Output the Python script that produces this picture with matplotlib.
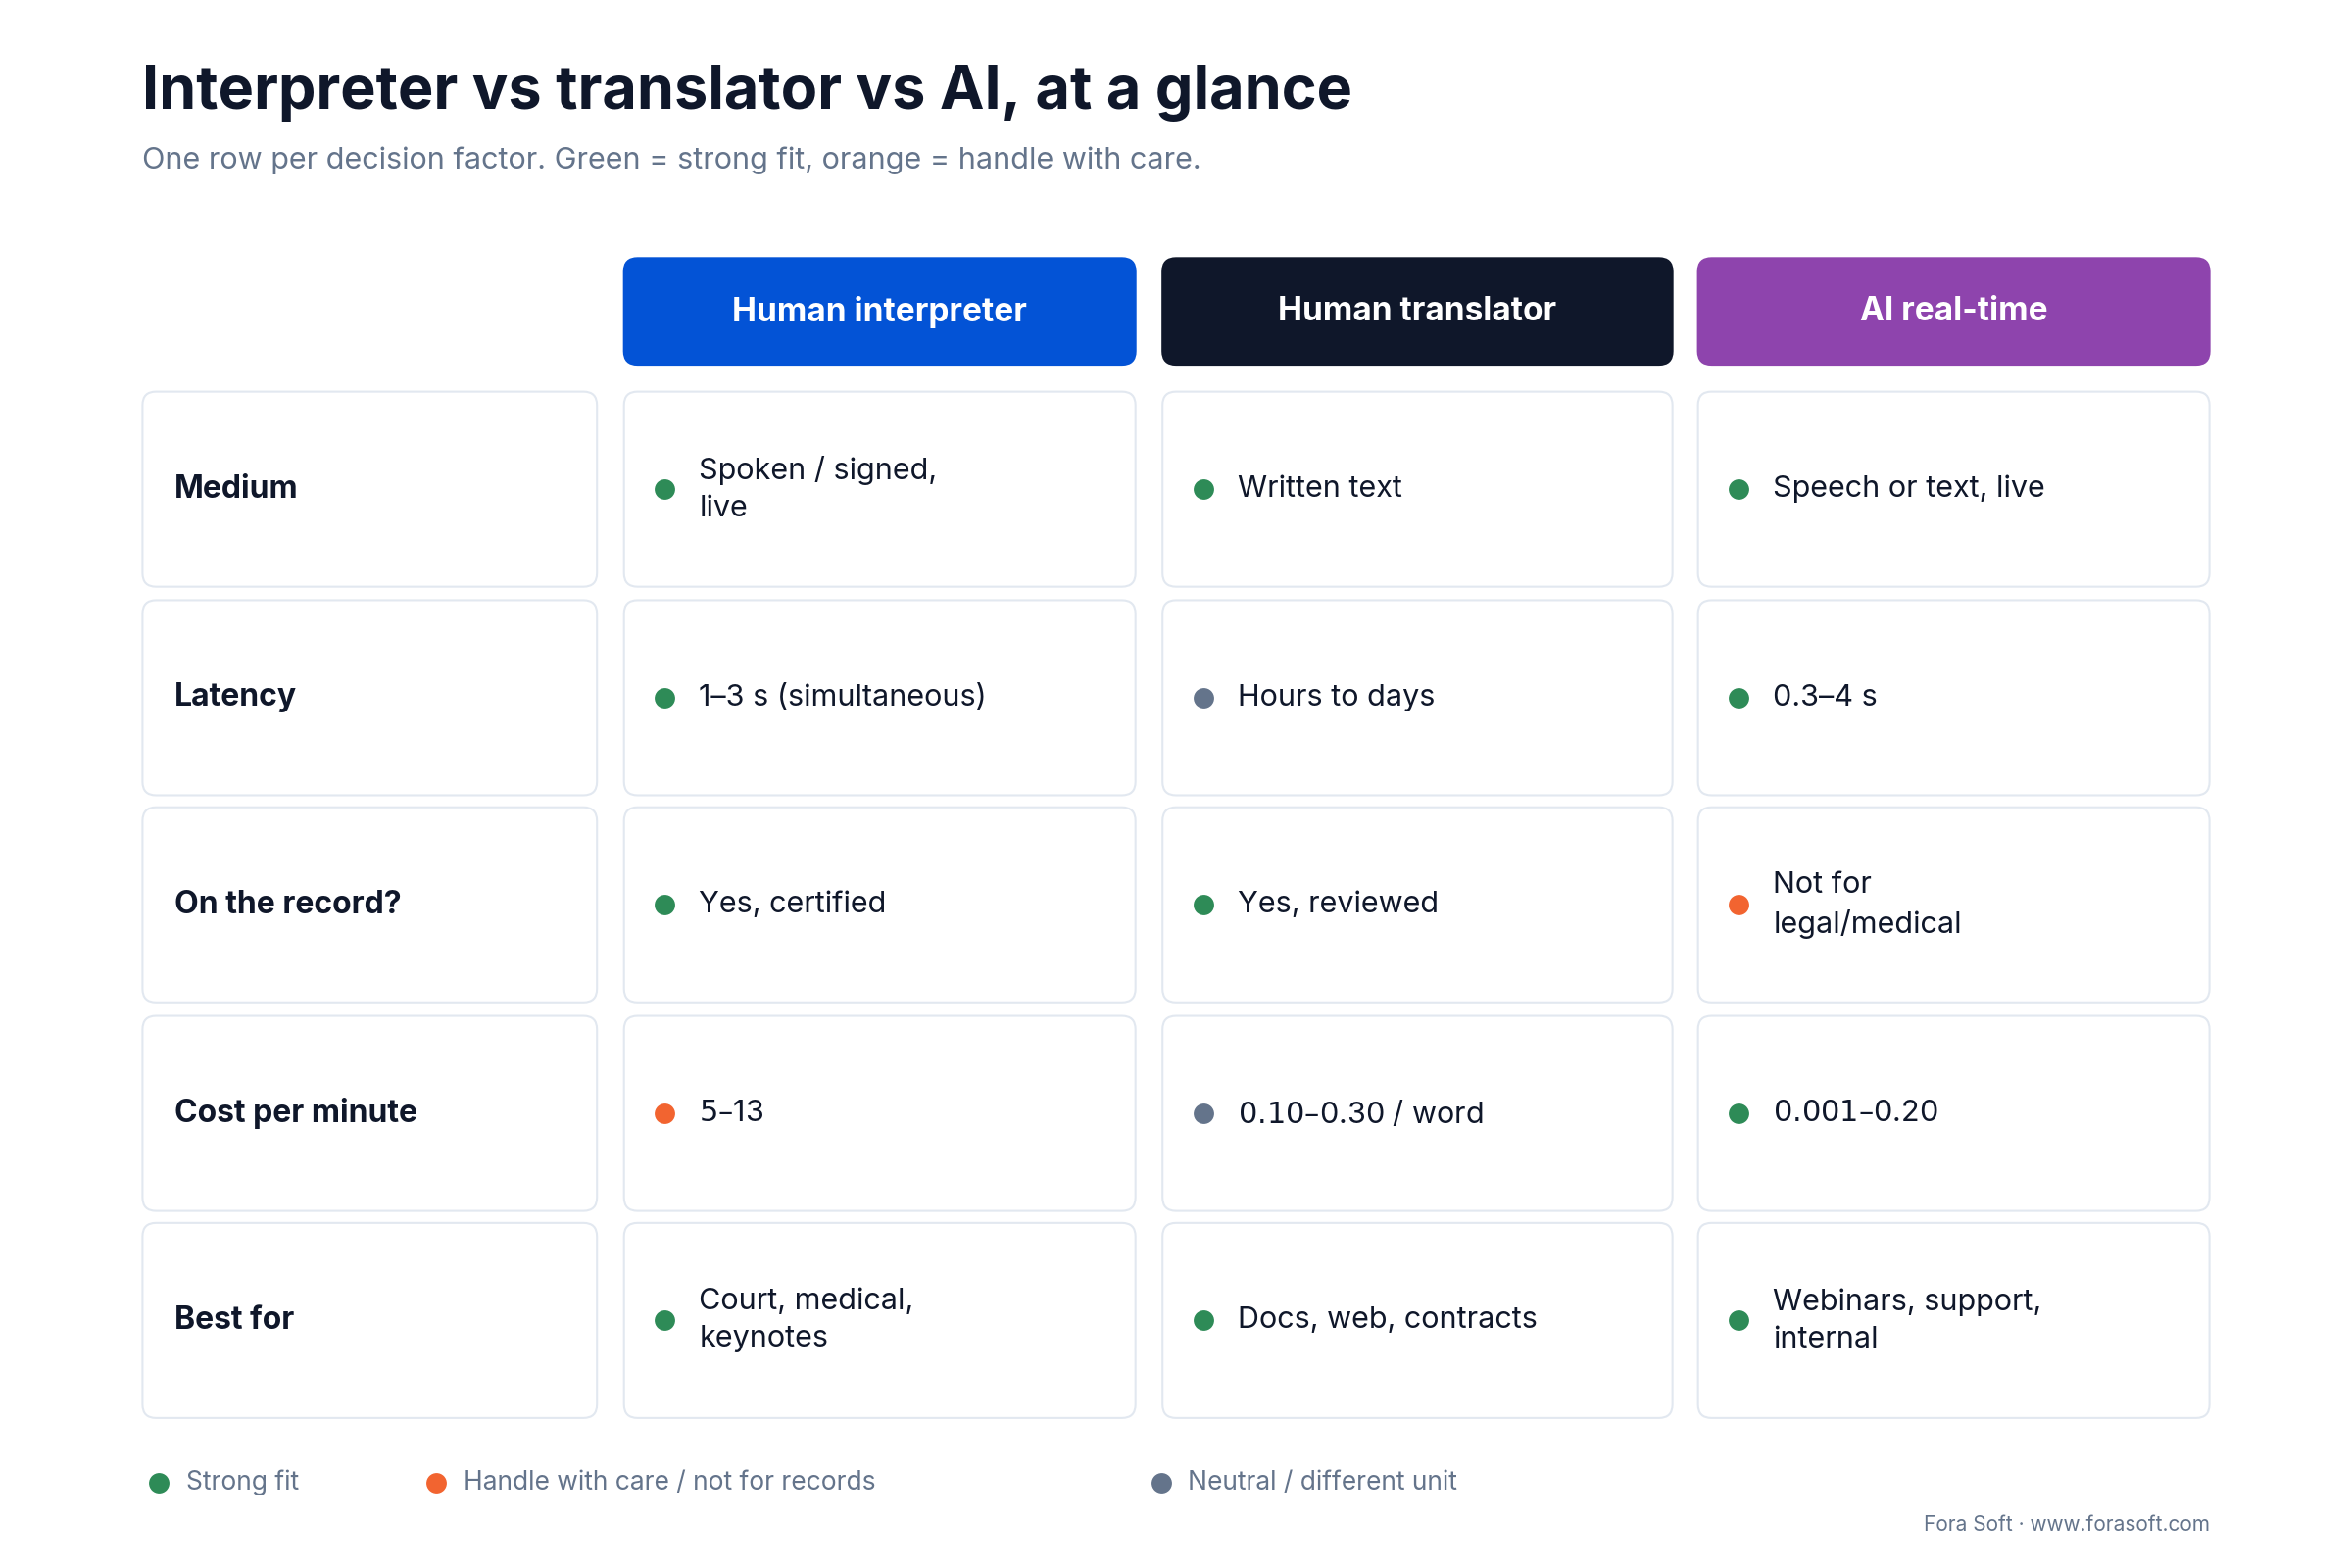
import matplotlib.pyplot as plt
from matplotlib.patches import FancyBboxPatch

plt.rcParams['font.family'] = ['Inter', 'DejaVu Sans']

columns = ["Human interpreter", "Human translator", "AI real-time"]
header_colors = ["#0353d6", "#0f172a", "#8e44ad"]
factors = ["Medium", "Latency", "On the record?", "Cost per minute", "Best for"]
cells = [
    ["Spoken / signed,\nlive", "Written text", "Speech or text, live"],
    ["1–3 s (simultaneous)", "Hours to days", "0.3–4 s"],
    ["Yes, certified", "Yes, reviewed", "Not for\nlegal/medical"],
    ["$5–$13", "$0.10–$0.30 / word", "$0.001–$0.20"],
    ["Court, medical,\nkeynotes", "Docs, web, contracts", "Webinars, support,\ninternal"],
]
# g = strong fit, o = handle with care, n = neutral
status = [
    ["g", "g", "g"],
    ["g", "n", "g"],
    ["g", "g", "o"],
    ["o", "n", "g"],
    ["g", "g", "g"],
]
status_colors = {"g": "#2e8b57", "o": "#f26430", "n": "#64748b"}
legend_labels = ["Strong fit", "Handle with care / not for records", "Neutral / different unit"]

W, H = 1568, 1045
fig = plt.figure(figsize=(24, 16), dpi=100)
ax = fig.add_axes([0, 0, 1, 1])
ax.set_xlim(0, W)
ax.set_ylim(H, 0)
ax.axis('off')
fig.patch.set_facecolor('white')

dark = "#0f172a"
grey = "#64748b"

ax.text(95, 62, "Interpreter vs translator vs AI, at a glance", fontsize=44,
        fontweight='bold', color=dark, va='center')
ax.text(95, 107, "One row per decision factor. Green = strong fit, orange = handle with care.",
        fontsize=22, color=grey, va='center')

col_x = [(416, 757), (775, 1115), (1132, 1473)]
label_x = (95, 398)
row_y = [(261, 391), (400, 530), (538, 668), (677, 807), (815, 945)]


def box(x0, x1, y0, y1, fc, ec, r=9):
    ax.add_patch(FancyBboxPatch((x0, y0), x1 - x0, y1 - y0,
                                boxstyle=f"round,pad=0,rounding_size={r}",
                                fc=fc, ec=ec, lw=1.5))


for (x0, x1), name, c in zip(col_x, columns, header_colors):
    box(x0, x1, 172, 243, c, c)
    ax.text((x0 + x1) / 2, 208, name, fontsize=24, fontweight='bold',
            color='white', ha='center', va='center')

for i, (y0, y1) in enumerate(row_y):
    yc = (y0 + y1) / 2
    box(label_x[0], label_x[1], y0, y1, "white", "#e2e8f0")
    ax.text(label_x[0] + 21, yc, factors[i], fontsize=23, fontweight='bold',
            color=dark, va='center')
    for j, (x0, x1) in enumerate(col_x):
        box(x0, x1, y0, y1, "white", "#e2e8f0")
        ax.plot(x0 + 27, yc, 'o', ms=15, color=status_colors[status[i][j]], mec='none')
        ax.text(x0 + 50, yc, cells[i][j], fontsize=22, color=dark, va='center',
                linespacing=1.45)

for lx, key, lab in zip([106, 291, 774], ["g", "o", "n"], legend_labels):
    ax.plot(lx, 988, 'o', ms=15, color=status_colors[key], mec='none')
    ax.text(lx + 18, 988, lab, fontsize=19, color=grey, va='center')

ax.text(1473, 1016, "Fora Soft · www.forasoft.com", fontsize=15, color=grey,
        ha='right', va='center')

fig.savefig("out.png", dpi=100, facecolor='white')
